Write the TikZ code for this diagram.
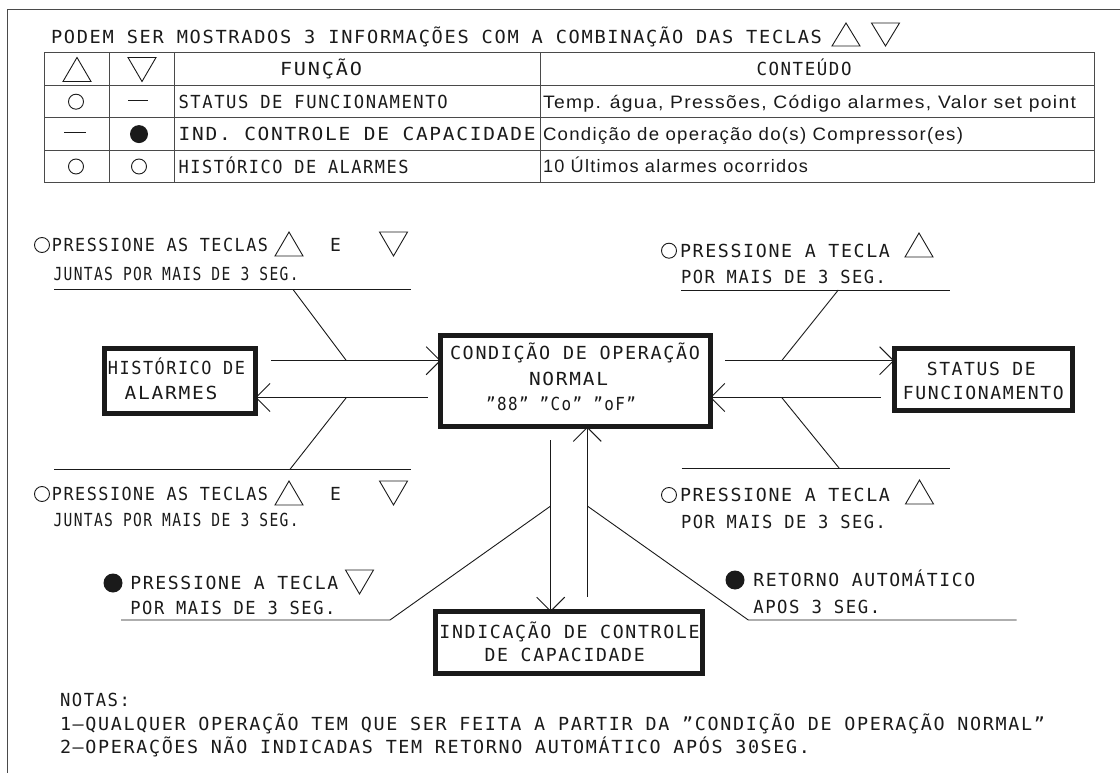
\documentclass[tikz,border=0pt]{standalone}
\usepackage{fontspec}
\setmainfont{DejaVu Sans Mono}[LetterSpace=9]
\newfontfamily\lowfont{Liberation Sans}[LetterSpace=7]
\usepackage{graphicx}
\usetikzlibrary{arrows.meta}
\definecolor{ink}{HTML}{1A1A1A}
\definecolor{rule}{HTML}{4A4A4A}
\newcommand\lbf{\fontsize{18}{24}\selectfont}
\newcommand\fitw[2]{\resizebox{#1pt}{\height}{#2}}
\newcommand\TriUp[3]{\draw[tri] ({#1-14},#3) -- ({#1+14},#3) -- (#1,#2) -- cycle;}
\newcommand\TriDown[3]{\draw[tri] ({#1-14},#2) -- ({#1+14},#2) -- (#1,#3) -- cycle;}
\tikzset{
  lbl/.style={anchor=base west, inner sep=0pt, outer sep=0pt, text=ink, font=\lbf},
  lblc/.style={anchor=base, inner sep=0pt, outer sep=0pt, text=ink, font=\lbf},
  box/.style={draw=ink, line width=5pt, inner sep=0pt, outer sep=0pt, fill=white},
  thin/.style={draw=ink, line width=0.9pt},
  grid/.style={draw=rule, line width=1pt},
  frame/.style={draw=rule, line width=1pt},
  tri/.style={draw=ink, line width=0.9pt, line join=miter},
  ocirc/.style={draw=ink, line width=0.9pt},
  fcirc/.style={fill=ink},
  arr/.style={thin, -{Straight Barb[length=14pt,width=28pt]}},
}
\begin{document}
\begin{tikzpicture}[x=1pt,y=-1pt]
\useasboundingbox[fill=white] (0,0) rectangle (1120,773);
% outer frame
\draw[frame] (7.9,773) -- (7.9,10) -- (1120,10);

% title
\node[lbl] (title) at (51,43.5) {\fitw{771}{PODEM SER MOSTRADOS 3 INFORMAÇÕES COM A COMBINAÇÃO DAS TECLAS}};
\TriUp{846}{23}{46}
\TriDown{885.5}{23}{46}

% table
\draw[grid] (44.6,53) rectangle (1094.3,182.7);
\foreach \yy in {85.5,118,150.3} \draw[grid] (44.6,\yy) -- (1094.3,\yy);
\foreach \xx in {109.3,174.3,540} \draw[grid] (\xx,53) -- (\xx,182.7);
\TriUp{77}{57.5}{81.5}
\TriDown{142}{57.5}{81.5}
\node[lblc] (hfun) at (321,75.7) {\fitw{82}{FUNÇÃO}};
\node[lblc] (hcon) at (804,75.7) {\fitw{95}{CONTEÚDO}};
% row 1
\draw[ocirc] (76,101.7) circle[radius=7.5];
\draw[thin] (128,100) -- (148,100);
\node[lbl] (r1f) at (178.6,108.2) {\fitw{269}{STATUS DE FUNCIONAMENTO}};
\node[lbl] (r1c) at (543,108.2) {\lowfont\fitw{533}{Temp. água, Pressões, Código alarmes, Valor set point}};
% row 2
\draw[thin] (64,132.5) -- (86,132.5);
\fill[fcirc] (139,134.1) circle[radius=9];
\node[lbl] (r2f) at (178.6,140.6) {\fitw{357}{IND. CONTROLE DE CAPACIDADE}};
\node[lbl] (r2c) at (543,140.6) {\lowfont\fitw{420}{Condição de operação do(s) Compressor(es)}};
% row 3
\draw[ocirc] (76,166.5) circle[radius=7.5];
\draw[ocirc] (139,166.5) circle[radius=7.5];
\node[lbl] (r3f) at (178.6,173) {\fitw{230}{HISTÓRICO DE ALARMES}};
\node[lbl] (r3c) at (543,173) {\lowfont\fitw{265}{10 Últimos alarmes ocorridos}};

% boxes
\node[box, minimum width=151.1pt, minimum height=65pt] (hist) at (179.85,381) {};
\node[lblc] (hist1) at (176.5,374.8) {\fitw{137}{HISTÓRICO DE}};
\node[lblc] (hist2) at (171,399.8) {\fitw{93}{ALARMES}};

\node[box, minimum width=269.4pt, minimum height=91.6pt] (cond) at (575.5,381) {};
\node[lbl] (cond1) at (450,359.2) {\fitw{250}{CONDIÇÃO DE OPERAÇÃO}};
\node[lbl] (cond2) at (529,385.8) {\fitw{79}{NORMAL}};
\node[lbl] (cond3) at (486,410.5) {\fitw{150}{"88" "Co" "oF"}};

\node[box, minimum width=178.3pt, minimum height=62.3pt] (stat) at (983.35,379.65) {};
\node[lblc] (stat1) at (981.3,375.8) {\fitw{109}{STATUS DE}};
\node[lblc] (stat2) at (983.3,399.8) {\fitw{161}{FUNCIONAMENTO}};

\node[box, minimum width=267pt, minimum height=61.7pt] (indic) at (569.3,642.65) {};
\node[lblc] (indic1) at (569.5,638.2) {\fitw{260}{INDICAÇÃO DE CONTROLE}};
\node[lblc] (indic2) at (564.7,661.5) {\fitw{160}{DE CAPACIDADE}};

% connector coordinates
\coordinate (hcS) at (271.4,360.7);
\coordinate (chS) at (427.9,397.5);
\coordinate (csS) at (725,360.7);
\coordinate (scS) at (880.7,397.5);
\coordinate (ciS) at (550.7,440);
\coordinate (icS) at (587.3,596.7);

\draw[arr] (hcS) -- (hcS -| cond.west);
\draw[arr] (chS) -- (chS -| hist.east);
\draw[arr] (csS) -- (csS -| stat.west);
\draw[arr] (scS) -- (scS -| cond.east);
\draw[arr] (ciS) -- (ciS |- indic.north);
\draw[arr] (icS) -- (icS |- cond.south);

% leader points on arrows
\coordinate (pTL) at (346.4,360.7);
\coordinate (pBL) at (346.4,397.5);
\coordinate (pTR) at (781.7,360.7);
\coordinate (pBR) at (781.7,397.5);
\coordinate (pLL) at (550.7,506);
\coordinate (pLR) at (587.3,506);
% underline ends
\coordinate (uTLa) at (54.3,289.3);  \coordinate (uTLb) at (411.4,289.3); \coordinate (uTLk) at (292.9,289.3);
\coordinate (uBLa) at (54.3,469.3);  \coordinate (uBLb) at (411.4,469.3); \coordinate (uBLk) at (290,469.3);
\coordinate (uTRa) at (681.4,290);   \coordinate (uTRb) at (950,290);     \coordinate (uTRk) at (838.3,290);
\coordinate (uBRa) at (681.7,468.3); \coordinate (uBRb) at (950,468.3);   \coordinate (uBRk) at (839.3,468.3);
\coordinate (uLLa) at (121,620);     \coordinate (uLLk) at (390,620);
\coordinate (uLRk) at (748.3,620);   \coordinate (uLRb) at (1016.7,620);

\draw[thin] (uTLa) -- (uTLb);  \draw[thin] (uTLk) -- (pTL);
\draw[thin] (uBLa) -- (uBLb);  \draw[thin] (uBLk) -- (pBL);
\draw[thin] (uTRa) -- (uTRb);  \draw[thin] (uTRk) -- (pTR);
\draw[thin] (uBRa) -- (uBRb);  \draw[thin] (uBRk) -- (pBR);
\draw[thin] (uLLa) -- (uLLk) -- (pLL);
\draw[thin] (pLR) -- (uLRk) -- (uLRb);

% label top-left
\draw[ocirc] (42,245) circle[radius=7.5];
\node[lbl] (tl1) at (52,251.5) {\fitw{216}{PRESSIONE AS TECLAS}};
\TriUp{289}{232}{256}
\node[lbl] (tlE) at (330,251.5) {E};
\TriDown{393.5}{232}{256}
\node[lbl] (tl2) at (53.6,280.8) {\fitw{245}{JUNTAS POR MAIS DE 3 SEG.}};

% label bottom-left
\draw[ocirc] (42,494) circle[radius=7.5];
\node[lbl] (bl1) at (52,500.5) {\fitw{216}{PRESSIONE AS TECLAS}};
\TriUp{289}{481}{505}
\node[lbl] (blE) at (330,500.5) {E};
\TriDown{393.5}{481}{505}
\node[lbl] (bl2) at (53.6,526.5) {\fitw{245}{JUNTAS POR MAIS DE 3 SEG.}};

% label lower-left
\fill[fcirc] (113,583) circle[radius=9.5];
\node[lbl] (ll1) at (130.4,589.5) {\fitw{208}{PRESSIONE A TECLA}};
\TriDown{359.5}{570}{594}
\node[lbl] (ll2) at (130.4,614.8) {\fitw{205}{POR MAIS DE 3 SEG.}};

% label top-right
\draw[ocirc] (669,250.7) circle[radius=7.5];
\node[lbl] (tr1) at (680,257.2) {\fitw{210}{PRESSIONE A TECLA}};
\TriUp{919}{233}{257}
\node[lbl] (tr2) at (681,283.2) {\fitw{205}{POR MAIS DE 3 SEG.}};

% label bottom-right
\draw[ocirc] (669,495) circle[radius=7.5];
\node[lbl] (br1) at (680,501.5) {\fitw{210}{PRESSIONE A TECLA}};
\TriUp{919.5}{480}{504}
\node[lbl] (br2) at (681,528.2) {\fitw{205}{POR MAIS DE 3 SEG.}};

% label lower-right
\fill[fcirc] (735,580) circle[radius=9.5];
\node[lbl] (lr1) at (753.3,586.5) {\fitw{222}{RETORNO AUTOMÁTICO}};
\node[lbl] (lr2) at (753.3,613.2) {\fitw{127}{APOS 3 SEG.}};

% notes
\node[lbl] (n0) at (60,706.5) {\fitw{70}{NOTAS:}};
\node[lbl] (n1) at (60,730.5) {\fitw{985}{1–QUALQUER OPERAÇÃO TEM QUE SER FEITA A PARTIR DA "CONDIÇÃO DE OPERAÇÃO NORMAL"}};
\node[lbl] (n2) at (60,753.5) {\fitw{750}{2–OPERAÇÕES NÃO INDICADAS TEM RETORNO AUTOMÁTICO APÓS 30SEG.}};
\end{tikzpicture}
\end{document}
